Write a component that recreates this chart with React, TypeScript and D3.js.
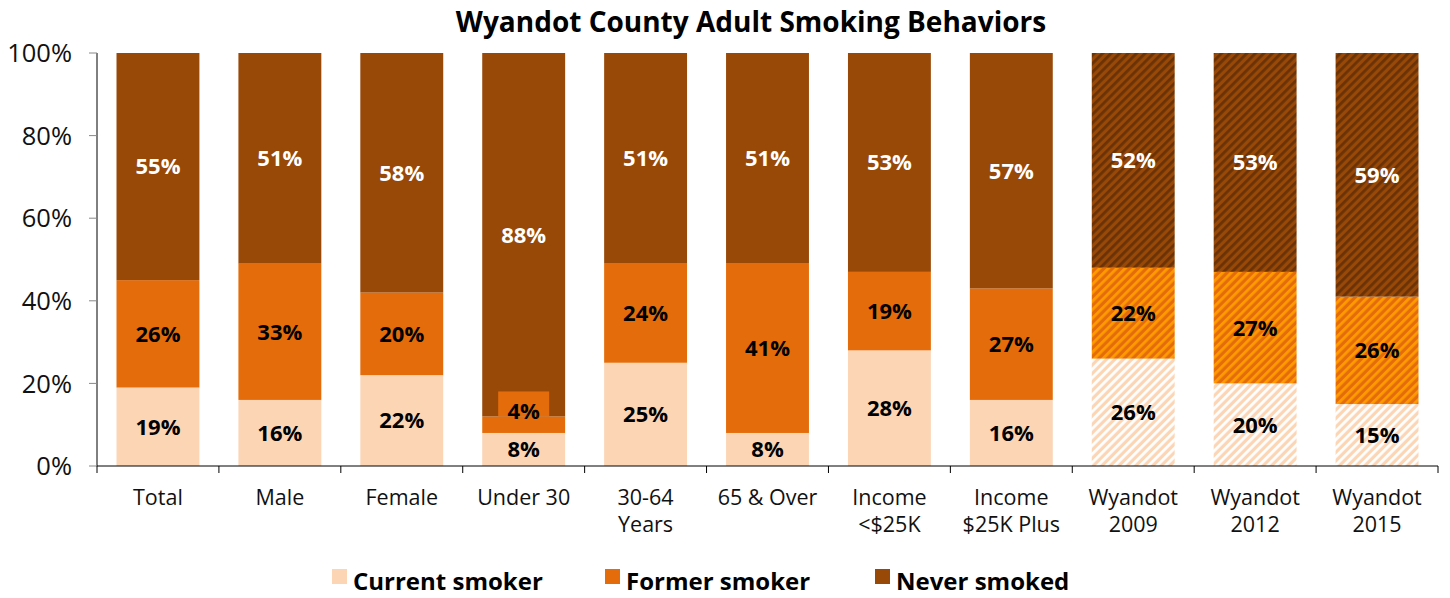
import React from "react";
import * as d3 from "d3";

const categories = [
  ["Total"],
  ["Male"],
  ["Female"],
  ["Under 30"],
  ["30-64", "Years"],
  ["65 & Over"],
  ["Income", "<$25K"],
  ["Income", "$25K Plus"],
  ["Wyandot", "2009"],
  ["Wyandot", "2012"],
  ["Wyandot", "2015"],
];
const current = [19, 16, 22, 8, 25, 8, 28, 16, 26, 20, 15];
const former = [26, 33, 20, 4, 24, 41, 19, 27, 22, 27, 26];
const never = [55, 51, 58, 88, 51, 51, 53, 57, 52, 53, 59];
const hatched = [false, false, false, false, false, false, false, false, true, true, true];
const seriesNames = ["Current smoker", "Former smoker", "Never smoked"];
const yTicks = [0, 20, 40, 60, 80, 100];

const colors = ["#FCD5B5", "#E46C0A", "#984807"];
const stripe = ["#FFFFFF", "#FF9A00", "#6A3205"];
const labelColors = ["#000", "#000", "#fff"];

const W = 1450;
const H = 598;
const margin = { top: 53, right: 12, bottom: 132, left: 97 };
const font = "'Open Sans', 'Noto Sans', sans-serif";

export default function App() {
  const x = d3
    .scaleBand<number>()
    .domain(categories.map((_, i) => i))
    .range([margin.left, 1438])
    .paddingInner(0.32)
    .paddingOuter(0.16);
  const y = d3.scaleLinear().domain([0, 100]).range([H - margin.bottom, margin.top]);

  const rows = categories.map((_, i) => ({ i, current: current[i], former: former[i], never: never[i] }));
  const stacked = d3.stack<any>().keys(["current", "former", "never"])(rows);

  const step = x.step();
  const bounds = d3.range(categories.length + 1).map((k) => margin.left + k * step);

  return (
    <svg width={W} height={H} style={{ position: "absolute", left: 0, top: 0, background: "#fff" }}>
      <defs>
        {colors.map((c, s) => (
          <pattern
            key={s}
            id={`hatch${s}`}
            patternUnits="userSpaceOnUse"
            width={6}
            height={6}
            patternTransform="rotate(45)"
          >
            <rect width={6} height={6} fill={c} />
            <rect width={2.8} height={6} fill={stripe[s]} />
          </pattern>
        ))}
      </defs>

      <text x={751} y={32} textAnchor="middle" fontFamily={font} fontWeight="bold" fontSize={28} fill="#000">
        Wyandot County Adult Smoking Behaviors
      </text>

      {/* bars */}
      {stacked.map((layer, s) =>
        layer.map((d, i) => (
          <rect
            key={`${s}-${i}`}
            x={x(i)}
            y={y(d[1])}
            width={x.bandwidth()}
            height={y(d[0]) - y(d[1])}
            fill={hatched[i] ? `url(#hatch${s})` : colors[s]}
          />
        ))
      )}

      {/* labels */}
      {stacked.map((layer, s) =>
        layer.map((d, i) => {
          const v = d[1] - d[0];
          const cx = x(i)! + x.bandwidth() / 2;
          const small = v < 6;
          // small segment: label lifted above the segment with its own box
          const cy = small ? y(d[1]) - 5 : (y(d[0]) + y(d[1])) / 2;
          return (
            <g key={`l${s}-${i}`}>
              {small && <rect x={cx - 25.5} y={y(d[1]) - 25} width={51} height={25} fill={colors[s]} />}
              <text
                x={cx}
                y={cy}
                dy="0.36em"
                textAnchor="middle"
                fontFamily={font}
                fontWeight="bold"
                fontSize={22}
                fill={labelColors[s]}
              >
                {v}%
              </text>
            </g>
          );
        })
      )}

      {/* y axis */}
      <line x1={margin.left} x2={margin.left} y1={y(100)} y2={y(0)} stroke="#000" strokeWidth={1} />
      {yTicks.map((t) => (
        <g key={t}>
          <line x1={margin.left - 8} x2={margin.left} y1={y(t)} y2={y(t)} stroke="#888" />
          <text
            x={72}
            y={y(t)}
            dy="0.36em"
            textAnchor="end"
            fontFamily={font}
            fontSize={25.5}
            fill="#111"
          >
            {t}%
          </text>
        </g>
      ))}

      {/* x axis */}
      <line x1={margin.left} x2={1438} y1={y(0)} y2={y(0)} stroke="#000" />
      {bounds.map((b, k) => (
        <line key={k} x1={b} x2={b} y1={y(0)} y2={y(0) + 7} stroke="#000" />
      ))}
      {categories.map((lines, i) => (
        <text
          key={i}
          x={x(i)! + x.bandwidth() / 2}
          y={505}
          textAnchor="middle"
          fontFamily={font}
          fontSize={21.5}
          fill="#111"
        >
          {lines.map((l, j) => (
            <tspan key={j} x={x(i)! + x.bandwidth() / 2} dy={j === 0 ? 0 : 27}>
              {l}
            </tspan>
          ))}
        </text>
      ))}

      {/* legend */}
      {seriesNames.map((n, s) => {
        const lx = [332, 605, 875][s];
        return (
          <g key={n}>
            <rect x={lx} y={569} width={15} height={15} fill={colors[s]} />
            <text x={lx + 21} y={590} fontFamily={font} fontWeight="bold" fontSize={24} fill="#000">
              {n}
            </text>
          </g>
        );
      })}
    </svg>
  );
}
